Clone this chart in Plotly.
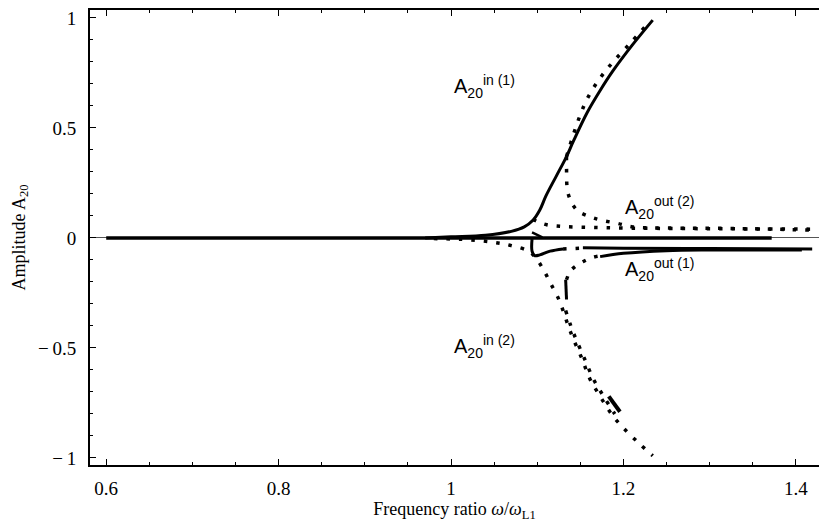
import plotly.graph_objects as go

# ---------------- data ----------------
zero_x = [0.6, 1.372]
zero_y = [0.0, 0.0]

in1_solid_x = [0.97, 1.0, 1.04, 1.07, 1.085, 1.095, 1.103, 1.11, 1.122, 1.134, 1.142, 1.158, 1.173, 1.188, 1.21, 1.234]
in1_solid_y = [0.0, 0.005, 0.012, 0.03, 0.05, 0.08, 0.127, 0.19, 0.28, 0.37, 0.44, 0.57, 0.67, 0.76, 0.875, 0.99]

in1_dot_x = [1.134, 1.142, 1.150, 1.159, 1.173, 1.188, 1.208, 1.227]
in1_dot_y = [0.37, 0.47, 0.56, 0.64, 0.727, 0.80, 0.885, 0.968]

out2_dot_x = [1.134, 1.134, 1.136, 1.146, 1.161, 1.173, 1.192, 1.211, 1.25, 1.327, 1.416]
out2_dot_y = [0.37, 0.32, 0.20, 0.127, 0.097, 0.082, 0.067, 0.05, 0.045, 0.043, 0.036]

knee_dot_x = [1.095, 1.10, 1.111, 1.13, 1.16, 1.20, 1.30, 1.42]
knee_dot_y = [0.085, 0.075, 0.06, 0.052, 0.048, 0.045, 0.042, 0.040]

in2_dot_x = [0.98, 1.02, 1.05, 1.07, 1.09, 1.10, 1.108, 1.116, 1.124, 1.13, 1.136, 1.142, 1.152, 1.161, 1.173, 1.188, 1.204, 1.22, 1.234]
in2_dot_y = [-0.003, -0.008, -0.02, -0.035, -0.06, -0.10, -0.15, -0.21, -0.27, -0.33, -0.40, -0.46, -0.55, -0.64, -0.72, -0.81, -0.88, -0.94, -0.99]

in2b_dot_x = [1.133, 1.139, 1.145, 1.155, 1.165, 1.177, 1.19]
in2b_dot_y = [-0.33, -0.40, -0.46, -0.55, -0.64, -0.72, -0.80]

branch_dot_x = [1.134, 1.138, 1.144, 1.153, 1.165, 1.176]
branch_dot_y = [-0.19, -0.153, -0.13, -0.108, -0.088, -0.08]

gap_dot_x = [1.13, 1.153]
gap_dot_y = [-0.05, -0.046]

out1a_x = [1.094, 1.094, 1.097, 1.103, 1.115, 1.13]
out1a_y = [-0.005, -0.06, -0.08, -0.077, -0.06, -0.05]

out1b_x = [1.153, 1.2, 1.3, 1.419]
out1b_y = [-0.045, -0.047, -0.048, -0.05]

out1c_x = [1.173, 1.2, 1.25, 1.3, 1.407]
out1c_y = [-0.085, -0.07, -0.058, -0.055, -0.055]

wedge_x = [1.094, 1.106]
wedge_y = [0.025, 0.003]

seg1_x = [1.133, 1.134]
seg1_y = [-0.19, -0.28]
seg2_x = [1.183, 1.196]
seg2_y = [-0.72, -0.79]

x_ticks = [0.6, 0.8, 1.0, 1.2, 1.4]
x_ticktext = ["0.6", "0.8", "1", "1.2", "1.4"]
y_ticks = [-1, -0.5, 0, 0.5, 1]
y_ticktext = ["\u2212\u20091", "\u2212\u20090.5", "0", "0.5", "1"]

labels = [
    (1.001, 0.69, "A<sub>20</sub><sup>in (1)</sup>"),
    (1.2, 0.14, "A<sub>20</sub><sup>out (2)</sup>"),
    (1.2, -0.145, "A<sub>20</sub><sup>out (1)</sup>"),
    (1.001, -0.495, "A<sub>20</sub><sup>in (2)</sup>"),
]

# ---------------- figure ----------------
fig = go.Figure()

def solid(x, y, w=3):
    fig.add_trace(go.Scatter(x=x, y=y, mode="lines", line=dict(color="black", width=w, shape="spline"),
                             showlegend=False, hoverinfo="skip"))

def dotted(x, y):
    fig.add_trace(go.Scatter(x=x, y=y, mode="lines",
                             line=dict(color="black", width=3.5, dash="3.5px,9px", shape="spline"),
                             showlegend=False, hoverinfo="skip"))

dotted(in1_dot_x, in1_dot_y)
dotted(out2_dot_x, out2_dot_y)
dotted(knee_dot_x, knee_dot_y)
dotted(in2_dot_x, in2_dot_y)
dotted(in2b_dot_x, in2b_dot_y)
dotted(branch_dot_x, branch_dot_y)
dotted(gap_dot_x, gap_dot_y)

solid(zero_x, zero_y, 3.5)
solid(in1_solid_x, in1_solid_y, 3)
solid(out1a_x, out1a_y, 3)
solid(out1b_x, out1b_y, 3)
solid(out1c_x, out1c_y, 3)
solid(wedge_x, wedge_y, 2.5)
solid(seg1_x, seg1_y, 3)
solid(seg2_x, seg2_y, 4)

for lx, ly, txt in labels:
    fig.add_annotation(x=lx, y=ly, text=txt, showarrow=False, xanchor="left", yanchor="middle",
                       font=dict(family="Liberation Sans, Arial, sans-serif", size=20, color="black"))

SERIF = "Liberation Serif, Times New Roman, serif"
axis_font = dict(family=SERIF, size=19, color="black")

fig.update_layout(
    width=819, height=528,
    margin=dict(l=90, r=0, t=10, b=63),
    paper_bgcolor="white", plot_bgcolor="white",
    font=dict(family=SERIF, color="black"),
    xaxis=dict(
        range=[0.5812, 1.4269], tickvals=x_ticks, ticktext=x_ticktext,
        ticks="inside", ticklen=6, tickwidth=1.2, tickcolor="black",
        minor=dict(dtick=0.05, tick0=0, ticks="inside", ticklen=3, tickwidth=1, tickcolor="black"),
        showline=True, linecolor="black", linewidth=2, mirror="ticks",
        showgrid=False, zeroline=False, tickfont=axis_font, automargin=False,
        title=dict(text="Frequency ratio <i>\u03c9</i>/<i>\u03c9</i><sub>L1</sub>",
                   font=dict(family=SERIF, size=18, color="black"), standoff=2),
        ticklabelstandoff=5,
    ),
    yaxis=dict(
        range=[-1.032, 1.036], tickvals=y_ticks, ticktext=y_ticktext,
        ticks="inside", ticklen=6, tickwidth=1.2, tickcolor="black",
        minor=dict(dtick=0.1, tick0=0, ticks="inside", ticklen=3, tickwidth=1, tickcolor="black"),
        showline=True, linecolor="black", linewidth=2, mirror=False,
        showgrid=False, zeroline=True, zerolinecolor="#555555", zerolinewidth=1,
        tickfont=axis_font, automargin=False,
        title=dict(text="Amplitude A<sub>20</sub>",
                   font=dict(family=SERIF, size=18, color="black"), standoff=8),
        ticklabelstandoff=8,
    ),
)

fig.write_html("out.html", config={"displayModeBar": False},
               post_script="document.body.style.margin='0';")
